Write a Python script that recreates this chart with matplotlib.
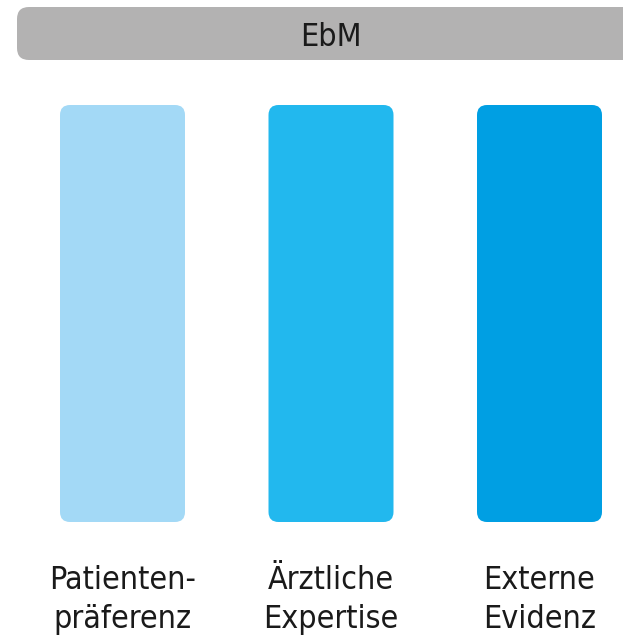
import matplotlib
matplotlib.use("Agg")
import matplotlib.pyplot as plt
from matplotlib.patches import FancyBboxPatch

title = "EbM"
categories = [["Patienten-", "präferenz"], ["Ärztliche", "Expertise"], ["Externe", "Evidenz"]]
values = [1.0, 1.0, 1.0]
colors = ["#a3d9f6", "#22b8ee", "#009fe3"]

W, H = 623, 641
fig = plt.figure(figsize=(W / 100, H / 100), dpi=100)
fig.patch.set_facecolor("white")
ax = fig.add_axes([0, 0, 1, 1])
ax.set_axis_off()

unit_x = 208.5   # px per x unit
unit_y = 417.0   # px per y unit
x0_px = 122.5
y0_px = 119.0    # from bottom
ax.set_xlim(-x0_px / unit_x, (W - x0_px) / unit_x)
ax.set_ylim(-y0_px / unit_y, (H - y0_px) / unit_y)

def py(top_px):
    return (H - top_px - y0_px) / unit_y

bar_w = 125 / unit_x
r = 10 / unit_x
aspect = unit_x / unit_y
font = dict(family="DejaVu Sans", fontstretch="condensed", color="#1a1a1a")
for i, (v, c) in enumerate(zip(values, colors)):
    p = FancyBboxPatch((i - bar_w / 2, 0), bar_w, v,
                       boxstyle=f"round,pad=0,rounding_size={r}",
                       mutation_aspect=aspect, fc=c, ec="none")
    ax.add_patch(p)
    for line, base in zip(categories[i], (589, 628)):
        ax.text(i, py(base), line, ha="center", va="baseline",
                fontsize=23, **font)

# header bar
hx0, hx1 = 17, 640
hy0, hy1 = H - 60, H - 7
hdr = FancyBboxPatch(((hx0 - x0_px) / unit_x, (hy0 - y0_px) / unit_y),
                     (hx1 - hx0) / unit_x, (hy1 - hy0) / unit_y,
                     boxstyle=f"round,pad=0,rounding_size={12 / unit_x}",
                     mutation_aspect=aspect, fc="#b3b2b2", ec="none",
                     clip_on=False)
ax.add_patch(hdr)
ax.text((331 - x0_px) / unit_x, py(46), title,
        ha="center", va="baseline", fontsize=23, **font)

fig.savefig("out.png", dpi=100, facecolor="white")
